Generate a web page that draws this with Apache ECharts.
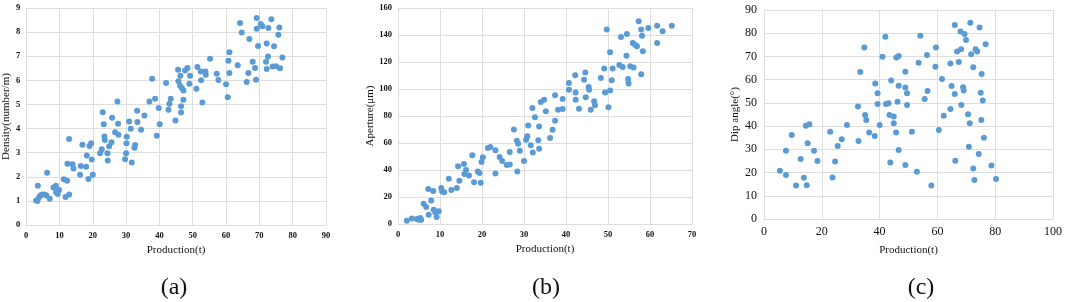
<!DOCTYPE html>
<html>
<head>
<meta charset="utf-8">
<script src="https://cdn.jsdelivr.net/npm/echarts@6/dist/echarts.min.js"></script>
<style>html,body{margin:0;padding:0;background:#fff}#c{width:1065px;height:302px}</style>
</head>
<body>
<div id="c"></div>
<script>
// Panel (a): Production(t) vs Density(number/m)
const densityPoints = [[3.0,1.02],[3.4,1.0],[3.5,1.63],[3.9,1.15],[4.3,1.22],[4.8,1.27],[5.5,1.27],[6.1,1.22],[7.1,1.09],[6.3,2.17],[8.2,1.56],[8.9,1.63],[9.0,1.36],[9.5,1.29],[9.9,1.45],[11.3,1.9],[12.3,1.84],[11.8,1.16],[12.9,1.27],[12.4,2.54],[12.9,3.57],[13.9,2.52],[14.2,2.34],[16.2,2.08],[16.4,2.45],[16.9,3.33],[18.0,2.42],[18.2,2.88],[18.7,1.91],[19.0,3.28],[19.5,3.39],[19.7,2.72],[20.0,2.08],[22.2,2.98],[22.7,3.14],[23.0,4.68],[23.3,4.18],[23.5,3.67],[23.6,3.53],[24.4,2.98],[24.5,2.67],[24.9,3.27],[25.6,3.43],[25.8,4.45],[26.7,3.85],[27.4,5.12],[27.6,4.2],[27.7,3.74],[29.7,2.73],[30.0,2.98],[30.1,3.39],[30.2,3.66],[30.9,4.29],[31.4,3.99],[31.7,2.59],[32.5,3.2],[32.7,3.32],[33.3,4.74],[33.4,4.27],[34.5,3.95],[35.5,4.54],[37.0,5.12],[37.8,6.07],[38.7,5.24],[39.2,3.7],[39.8,4.85],[40.1,4.18],[42.0,5.89],[42.7,4.78],[43.0,5.03],[43.4,5.24],[44.8,4.33],[45.6,6.44],[45.7,5.96],[46.3,6.19],[46.2,5.78],[46.7,5.68],[47.2,5.58],[47.2,5.19],[46.5,4.92],[46.5,4.67],[47.7,6.41],[48.4,6.51],[49.2,6.19],[49.0,5.86],[51.1,5.65],[51.4,6.55],[52.4,6.37],[52.5,6.0],[52.9,5.08],[53.8,6.37],[53.9,6.23],[55.2,6.9],[57.2,6.27],[57.7,6.01],[60.0,5.84],[60.5,5.3],[60.7,6.81],[61.0,7.16],[61.0,6.3],[63.5,6.63],[64.2,8.38],[64.7,7.98],[66.2,5.93],[66.7,6.3],[67.0,7.71],[68.0,6.77],[68.7,6.51],[69.0,6.02],[69.2,8.59],[69.2,8.14],[69.6,7.42],[70.4,8.34],[70.9,8.24],[72.0,6.77],[72.2,7.53],[72.2,6.47],[72.6,6.99],[72.7,8.17],[73.6,8.53],[74.0,6.57],[74.4,7.41],[75.0,6.58],[75.7,7.89],[76.0,8.19],[76.2,6.5],[76.9,6.95]];

// Panel (b): Production(t) vs Aperture(μm)
const aperturePoints = [[2.1,2.5],[3.3,4],[4.5,3.7],[4.9,3.2],[5.3,4.4],[5.5,3.2],[6.1,15],[6.7,12.6],[7.2,26],[7.3,6.9],[7.9,17.5],[8.4,24.4],[8.5,10.6],[8.9,8.6],[9.2,5.2],[9.7,9.4],[10.3,26.7],[10.5,24],[11.0,23.5],[12.1,33.6],[12.7,25.2],[14.0,26.7],[14.3,42.7],[14.6,32.1],[15.7,44.4],[15.8,37],[16.2,40],[16.9,36],[17.7,50.9],[18.1,30.9],[19.0,38.8],[19.4,37.8],[19.7,30.6],[19.9,45.9],[20.2,49.4],[21.4,56.3],[22.0,57],[23.2,54.6],[23.2,37.5],[24.2,49.6],[24.8,46.7],[25.9,43.7],[26.6,53.3],[26.6,44],[27.6,70],[28.3,61.7],[28.6,59.5],[29.0,54.3],[28.4,38.8],[30.0,46.7],[30.5,62.5],[30.8,65],[31.0,73],[31.6,58.3],[32.0,86],[32.1,53],[32.6,79],[33.4,62],[33.6,72.3],[33.6,55.8],[34.0,90.4],[34.8,92.1],[35.2,83.5],[36.2,63.7],[36.8,69.9],[37.4,76.5],[37.4,95.3],[38.1,84.7],[39.2,85.2],[39.2,92.6],[40.7,99.5],[40.7,104.4],[42.2,110.1],[42.3,97.5],[42.3,92.1],[43.1,85.4],[44.3,106.9],[44.6,112.3],[44.7,93.8],[45.4,101.5],[45.5,99.5],[45.9,84.7],[46.7,90.9],[46.9,87.9],[48.3,108.1],[49.1,115.1],[49.3,97.5],[49.7,144],[50.1,86.4],[50.5,98.8],[50.5,127.2],[50.9,106.4],[51.1,115.1],[52.7,117.8],[53.1,138.5],[53.5,116.3],[54.5,140.7],[54.4,124.7],[54.8,107.4],[54.9,104],[55.3,116.8],[55.9,134],[56.1,116],[56.4,132.8],[56.9,131.6],[57.3,150.1],[57.9,144],[58.1,139.5],[57.9,110.9],[58.3,127.9],[59.6,145.2],[61.7,146.9],[61.7,134],[63.0,142.7],[65.2,146.9]];

// Panel (c): Production(t) vs Dip angle(°)
const dipPoints = [[5.5,20.8],[7.6,18.9],[7.6,29.4],[9.6,36.2],[11.1,14.4],[12.7,25.8],[13.8,17.8],[14.5,40.2],[14.8,14.5],[15.1,32.6],[15.7,40.8],[17.3,29.4],[18.5,25.0],[22.9,37.6],[23.7,17.9],[24.6,24.8],[25.5,31.4],[26.9,34.3],[28.7,40.5],[32.5,48.4],[32.7,33.6],[33.3,63.3],[34.7,73.8],[35.0,44.8],[35.4,42.6],[36.4,37.2],[38.3,35.7],[38.5,58.4],[39.3,54.1],[39.3,49.5],[40.0,40.5],[41.0,69.9],[42.0,78.5],[42.2,49.5],[43.1,49.8],[43.4,44.8],[43.7,24.3],[44.0,59.6],[44.9,44.1],[44.9,41.2],[45.8,69.5],[46.6,70.2],[46.6,57.4],[46.2,50.5],[45.7,37.3],[46.6,29.7],[48.9,63.4],[48.9,56.6],[49.5,54.1],[49.5,49.1],[48.9,23.3],[51.2,37.6],[52.9,20.4],[53.5,67.3],[54.1,78.9],[55.6,51.7],[56.6,55.1],[56.4,70.6],[57.9,14.4],[59.3,65.6],[59.5,73.8],[60.5,38.3],[61.6,60.3],[62.2,44.5],[64.5,67.0],[64.5,47.4],[64.9,57.3],[66.0,53.8],[66.0,83.5],[66.2,25.1],[66.8,72.1],[67.4,67.6],[68.0,80.7],[68.2,73.1],[68.3,49.1],[68.9,56.7],[69.1,55.3],[69.4,79.7],[69.9,77.1],[70.6,45.1],[70.9,31.1],[71.2,41.2],[71.4,84.5],[71.7,70.9],[72.4,65.3],[72.4,21.8],[72.8,16.8],[73.2,73.1],[73.8,72.1],[74.3,28.0],[74.6,82.5],[75.0,54.4],[75.2,42.6],[75.3,62.4],[75.7,51.0],[76.1,35.0],[76.7,75.2],[78.7,23.0],[80.3,17.2]];

const xTitle = 'Production(t)';
const yTitles = ['Density(number/m)', 'Aperture(μm)', 'Dip angle(°)'];
const panelLabels = ['(a)', '(b)', '(c)'];
const xRanges = [[0, 90, 10], [0, 70, 10], [0, 100, 20]];
const yRanges = [[0, 9, 1], [0, 160, 20], [0, 90, 10]];

const FONT = '"Liberation Serif", "Times New Roman", serif';
const GRID = '#dedede';
const DOT = '#5B9BD5';

const grids = [
  {left: 26, top: 8, width: 300, height: 217},
  {left: 398, top: 8, width: 294, height: 216},
  {left: 764, top: 10, width: 289, height: 209}
];
const tickFont = [8.5, 8.5, 12];
const nameFont = [11, 11, 11];
const yNameGap = [10, 22, 19];
const xNameGap = [18, 19, 26];
const labelPos = [[174, 288], [546, 288], [921, 288]];

const xAxes = xRanges.map((r, i) => ({
  type: 'value', gridIndex: i, min: r[0], max: r[1], interval: r[2],
  name: xTitle, nameLocation: 'middle', nameGap: xNameGap[i],
  nameTextStyle: {fontFamily: FONT, fontSize: nameFont[i], color: '#111'},
  axisLine: {show: true, lineStyle: {color: GRID, width: 1}},
  axisTick: {show: false},
  axisLabel: {fontFamily: FONT, fontSize: tickFont[i], color: '#111', margin: i === 2 ? 7 : 6, fontWeight: i === 2 ? 'normal' : 'bold'},
  splitLine: {show: true, lineStyle: {color: GRID, width: 1}}
}));
const yAxes = yRanges.map((r, i) => ({
  type: 'value', gridIndex: i, min: r[0], max: r[1], interval: r[2],
  name: yTitles[i], nameLocation: 'middle', nameGap: yNameGap[i],
  nameTextStyle: {fontFamily: FONT, fontSize: nameFont[i], color: '#111'},
  axisLine: {show: true, lineStyle: {color: GRID, width: 1}},
  axisTick: {show: false},
  axisLabel: {fontFamily: FONT, fontSize: tickFont[i], color: '#111', margin: i === 2 ? 7 : 6, fontWeight: i === 2 ? 'normal' : 'bold'},
  splitLine: {show: true, lineStyle: {color: GRID, width: 1}}
}));

const seriesData = [densityPoints, aperturePoints, dipPoints];
const series = seriesData.map((d, i) => ({
  type: 'scatter', xAxisIndex: i, yAxisIndex: i, data: d,
  symbolSize: 6, itemStyle: {color: DOT, opacity: 1}, animation: false
}));

const graphics = panelLabels.map((t, i) => ({
  type: 'text', x: labelPos[i][0], y: labelPos[i][1],
  style: {text: t, font: '24px ' + FONT, fill: '#111', align: 'center', verticalAlign: 'middle'}
}));

const chart = echarts.init(document.getElementById('c'), null, {renderer: 'canvas'});
chart.setOption({
  animation: false,
  backgroundColor: '#fff',
  grid: grids,
  xAxis: xAxes,
  yAxis: yAxes,
  series: series,
  graphic: graphics
});
</script>
</body>
</html>
